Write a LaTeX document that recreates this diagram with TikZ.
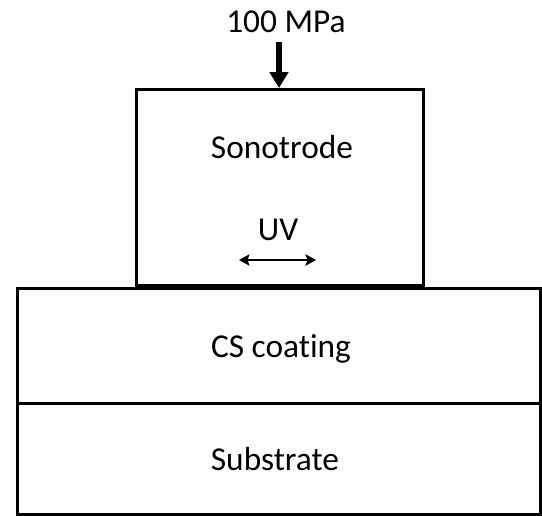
\documentclass[tikz,border=0pt]{standalone}
\usepackage{fontspec}
\setmainfont[Ligatures=NoCommon]{Carlito}
\usetikzlibrary{arrows.meta}

\begin{document}
\begin{tikzpicture}
  [x=0.02cm,y=-0.02cm,
   layer/.style={rectangle,draw=black,line width=1.7pt,inner sep=0pt},
   label/.style={inner sep=0pt,anchor=base,font=\fontsize{19}{23}\selectfont},
   loadarrow/.style={line width=3.1pt,-{Triangle[length=9pt,width=10.2pt]}},
   uvarrow/.style={line width=1.6pt,{Stealth[length=6pt,width=6.5pt,inset=1.2pt]}-{Stealth[length=6pt,width=6.5pt,inset=1.2pt]}}]
  \useasboundingbox (0,0) rectangle (542,515);

  \node[layer,minimum width=5.74cm,minimum height=3.92cm,anchor=south west] (sono) at (135,287) {};
  \node[layer,minimum width=10.46cm,minimum height=2.3cm,anchor=north west] (coat) at (16,287) {};
  \node[layer,minimum width=10.46cm,minimum height=2.22cm,anchor=north west] (sub) at (16,402) {};

  \node[label] (load) at (286,32) {100 MPa};
  \node[label] (sonotext) at (282,158) {Sonotrode};
  \node[label] (uv) at (278,240) {UV};
  \node[label] (coattext) at (281,357) {CS coating};
  \node[label] (subtext) at (275,470) {Substrate};

  \coordinate (top) at (279,42);
  \coordinate (uvl) at (239,260);
  \coordinate (uvr) at (316,260);

  \draw[loadarrow] (top) -- (top |- sono.north);
  \draw[uvarrow] (uvl) -- (uvr);

\end{tikzpicture}
\end{document}
